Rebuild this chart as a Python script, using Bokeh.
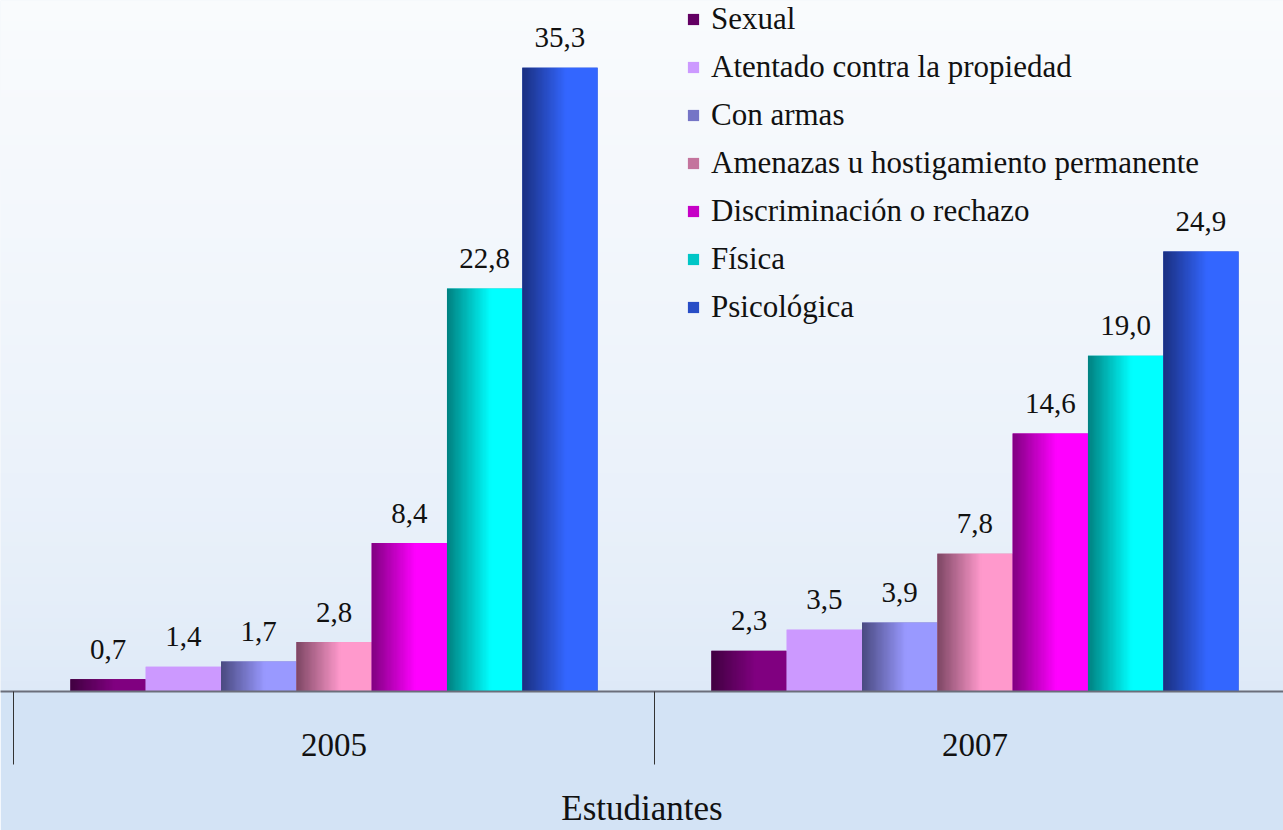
import numpy as np
from bokeh.plotting import figure
from bokeh.models import ColumnDataSource, Range1d, FixedTicker, Legend, LegendItem
from bokeh.core.properties import value
from bokeh.embed import file_html
from bokeh.resources import INLINE

# ---------------- data ----------------
years = ["2005", "2007"]
series = ["Sexual", "Atentado contra la propiedad", "Con armas",
          "Amenazas u hostigamiento permanente", "Discriminación o rechazo",
          "Física", "Psicológica"]
v2005 = [0.7, 1.4, 1.7, 2.8, 8.4, 22.8, 35.3]
v2007 = [2.3, 3.5, 3.9, 7.8, 14.6, 19.0, 24.9]
dark_colors = ["#400040", "#cc99ff", "#4a4a80", "#7d4664", "#800080", "#008080", "#1a2f80"]
light_colors = ["#800080", "#cc99ff", "#9999ff", "#ff99cc", "#ff00ff", "#00ffff", "#3366ff"]
group_label = "Estudiantes"

FONT = "Liberation Serif"

# ---------------- geometry ----------------
bar_w = 0.1175
n_cols = 64
x_start, x_end = -0.0203, 1.9813
y_end = 39.1


def hex2rgb(h):
    h = h.lstrip("#")
    return tuple(int(h[i:i + 2], 16) for i in (0, 2, 4))


def mix(c1, c2, t):
    a, b = hex2rgb(c1), hex2rgb(c2)
    return "#%02x%02x%02x" % tuple(int(round(a[i] + (b[i] - a[i]) * t)) for i in range(3))


def gradient_image(c1, c2, rows, cols, vertical, power=1.0, knee=1.0):
    arr = np.zeros((rows, cols), dtype=np.uint32)
    v = arr.view(dtype=np.uint8).reshape((rows, cols, 4))
    a = np.array(hex2rgb(c1), dtype=float)
    b = np.array(hex2rgb(c2), dtype=float)
    n = rows if vertical else cols
    for i in range(n):
        t = min(1.0, ((i + 0.5) / n) / knee) ** power
        c = (a + (b - a) * t).round().astype(np.uint8)
        if vertical:
            v[i, :, :3] = c
            v[i, :, 3] = 255
        else:
            v[:, i, :3] = c
            v[:, i, 3] = 255
    return arr


p = figure(width=1283, height=830, output_backend="svg", toolbar_location=None,
           x_range=Range1d(x_start, x_end), y_range=Range1d(0, y_end),
           min_border_left=0, min_border_right=0, min_border_top=0, min_border_bottom=138)
p.outline_line_color = None
p.grid.visible = False
p.yaxis.visible = False
p.border_fill_color = "#d3e3f5"
p.background_fill_color = "#eef3fa"

# vertical background gradient (row 0 = bottom)
bg = gradient_image("#dce8f7", "#f9fbfd", 200, 1, vertical=True, power=0.6)
p.image_rgba(image=[bg], x=x_start, y=0, dw=x_end - x_start, dh=y_end)

# bars: solid base bar + horizontal gradient image on top
centers = [i + 0.5 for i in range(len(years))]
renderers = []
label_x, label_y, label_t = [], [], []
for s in range(len(series)):
    bx, btop, lefts = [], [], []
    for g, vals in enumerate([v2005, v2007]):
        bc = centers[g] + (s - (len(series) - 1) / 2) * bar_w
        bx.append(bc)
        btop.append(vals[s])
        lefts.append(bc - bar_w / 2)
        label_x.append(bc)
        label_y.append(vals[s])
        label_t.append(("%.1f" % vals[s]).replace(".", ","))
    base = p.vbar(x=bx, top=btop, bottom=0, width=bar_w,
                  fill_color=mix(dark_colors[s], light_colors[s], 0.55), line_color=None)
    renderers.append(base)
    grad = gradient_image(dark_colors[s], light_colors[s], 1, n_cols, vertical=False, knee=0.58)
    p.image_rgba(image=[grad] * len(bx), x=lefts, y=[0] * len(bx),
                 dw=[bar_w] * len(bx), dh=btop)

lab_src = ColumnDataSource(dict(x=label_x, y=label_y, t=label_t))
p.text(x="x", y="y", text="t", source=lab_src, text_align="center",
       text_baseline="alphabetic", y_offset=-30, text_font=value(FONT),
       text_font_size="29px", text_color="#111111")

# axis
ax = p.xaxis[0]
ax.ticker = FixedTicker(ticks=centers, minor_ticks=[0, 1, 2])
ax.major_label_overrides = {c: y for c, y in zip(centers, years)}
ax.major_tick_out = 0
ax.major_tick_in = 0
ax.minor_tick_out = 73
ax.minor_tick_in = 0
ax.minor_tick_line_color = "#333333"
ax.minor_tick_line_width = 1
ax.axis_line_color = "#6b6e7a"
ax.axis_line_width = 2
ax.major_label_text_font = FONT
ax.major_label_text_font_size = "33px"
ax.major_label_text_color = "#111111"
ax.major_label_standoff = -31
ax.axis_label = group_label
ax.axis_label_text_font = FONT
ax.axis_label_text_font_size = "35px"
ax.axis_label_text_font_style = "normal"
ax.axis_label_text_color = "#111111"
ax.axis_label_standoff = 30

# legend
items = [LegendItem(label=series[i], renderers=[renderers[i]]) for i in range(len(series))]
legend = Legend(items=items, location=(686, 366), orientation="vertical",
                background_fill_alpha=0, border_line_color=None,
                padding=0, margin=0, spacing=12, label_height=36,
                glyph_width=14, glyph_height=14, label_standoff=11,
                label_text_font=FONT, label_text_font_size="31px",
                label_text_color="#111111")
p.add_layout(legend)

open("out.html", "w").write(file_html(p, INLINE))
